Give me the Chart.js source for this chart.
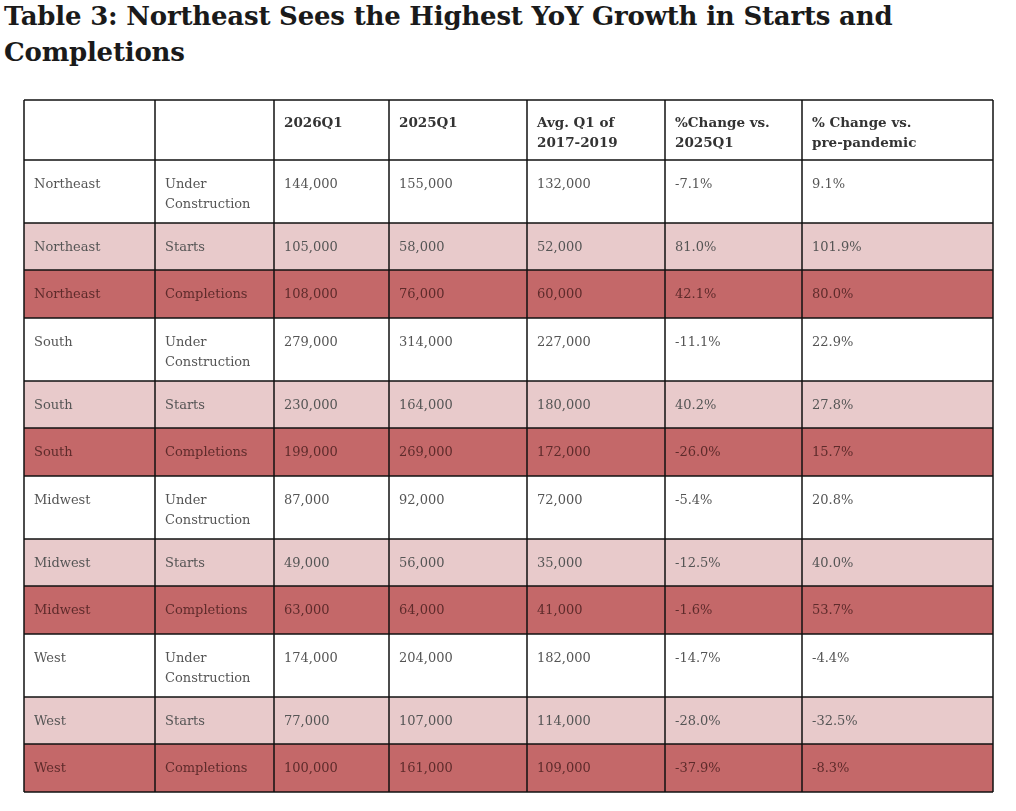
<!DOCTYPE html>
<html><head><meta charset="utf-8">
<script src="https://cdn.jsdelivr.net/npm/chart.js@4"></script>
<style>
body{margin:0;background:#fff;width:1016px;height:811px;overflow:hidden;position:relative}
h1{position:absolute;left:4px;top:-2px;margin:0;font:bold 26px/36px "DejaVu Serif",serif;color:#1a1a1a;letter-spacing:-0.2px}
#wrap{position:absolute;left:0;top:0;width:1016px;height:811px}
</style></head><body>
<h1>Table 3: Northeast Sees the Highest YoY Growth in Starts and<br>Completions</h1>
<div id="wrap"><canvas id="c"></canvas></div>
<script>
const headers = ["", "", "2026Q1", "2025Q1", "Avg. Q1 of\n2017-2019", "%Change vs.\n2025Q1", "% Change vs.\npre-pandemic"];
const regions = ["Northeast","Northeast","Northeast","South","South","South","Midwest","Midwest","Midwest","West","West","West"];
const metrics = ["Under\nConstruction","Starts","Completions","Under\nConstruction","Starts","Completions","Under\nConstruction","Starts","Completions","Under\nConstruction","Starts","Completions"];
const q2026 = ["144,000","105,000","108,000","279,000","230,000","199,000","87,000","49,000","63,000","174,000","77,000","100,000"];
const q2025 = ["155,000","58,000","76,000","314,000","164,000","269,000","92,000","56,000","64,000","204,000","107,000","161,000"];
const avg1719 = ["132,000","52,000","60,000","227,000","180,000","172,000","72,000","35,000","41,000","182,000","114,000","109,000"];
const chgYoY = ["-7.1%","81.0%","42.1%","-11.1%","40.2%","-26.0%","-5.4%","-12.5%","-1.6%","-14.7%","-28.0%","-37.9%"];
const chgPre = ["9.1%","101.9%","80.0%","22.9%","27.8%","15.7%","20.8%","40.0%","53.7%","-4.4%","-32.5%","-8.3%"];
const colEdges = [0,131,250,365,503,641,778,969];
const rowEdges = [0,60,123,170,218,281,328,376,439,486,534,597,644,692];
const rowKind = ["white","light","dark","white","light","dark","white","light","dark","white","light","dark"];
const fills = {white:"#ffffff", light:"#e8cacb", dark:"#c46869"};
const inks = {white:"#555555", light:"#555555", dark:"#5e2b2b"};

const tablePlugin = {
  id:'table',
  afterDraw(chart){
    const ctx=chart.ctx, xs=chart.scales.x, ys=chart.scales.y;
    const X=v=>xs.getPixelForValue(v), Y=v=>ys.getPixelForValue(v);
    const cols=[regions,metrics,q2026,q2025,avg1719,chgYoY,chgPre];
    ctx.save();
    rowKind.forEach((k,i)=>{ctx.fillStyle=fills[k];ctx.fillRect(X(0),Y(rowEdges[i+1]),X(969)-X(0),Y(rowEdges[i+2])-Y(rowEdges[i+1]));});
    ctx.textBaseline='alphabetic';
    const drawLines=(txt,x,y,font,color)=>{ctx.font=font;ctx.fillStyle=color;txt.split("\n").forEach((l,j)=>ctx.fillText(l,x,y+j*20));};
    headers.forEach((h,c)=>drawLines(h,X(colEdges[c])+10,Y(rowEdges[0])+27,'bold 13.5px "DejaVu Serif", serif','#333'));
    for(let r=0;r<12;r++) for(let c=0;c<7;c++)
      drawLines(cols[c][r],X(colEdges[c])+10,Y(rowEdges[r+1])+28,'13px "DejaVu Serif", serif',inks[rowKind[r]]);
    ctx.strokeStyle='#111';ctx.lineWidth=1.5;
    rowEdges.forEach(v=>{ctx.beginPath();ctx.moveTo(X(0),Y(v));ctx.lineTo(X(969),Y(v));ctx.stroke();});
    colEdges.forEach(v=>{ctx.beginPath();ctx.moveTo(X(v),Y(0));ctx.lineTo(X(v),Y(692));ctx.stroke();});
    ctx.restore();
  }
};
new Chart(document.getElementById('c'),{
  type:'scatter',
  data:{datasets:[{data:[]}]},
  options:{responsive:true,maintainAspectRatio:false,animation:false,
    layout:{padding:{left:24,right:23,top:100,bottom:19}},
    plugins:{legend:{display:false},tooltip:{enabled:false}},
    scales:{x:{type:'linear',min:0,max:969,display:false},
            y:{type:'linear',min:0,max:692,reverse:true,display:false}}},
  plugins:[tablePlugin]
});
</script></body></html>
